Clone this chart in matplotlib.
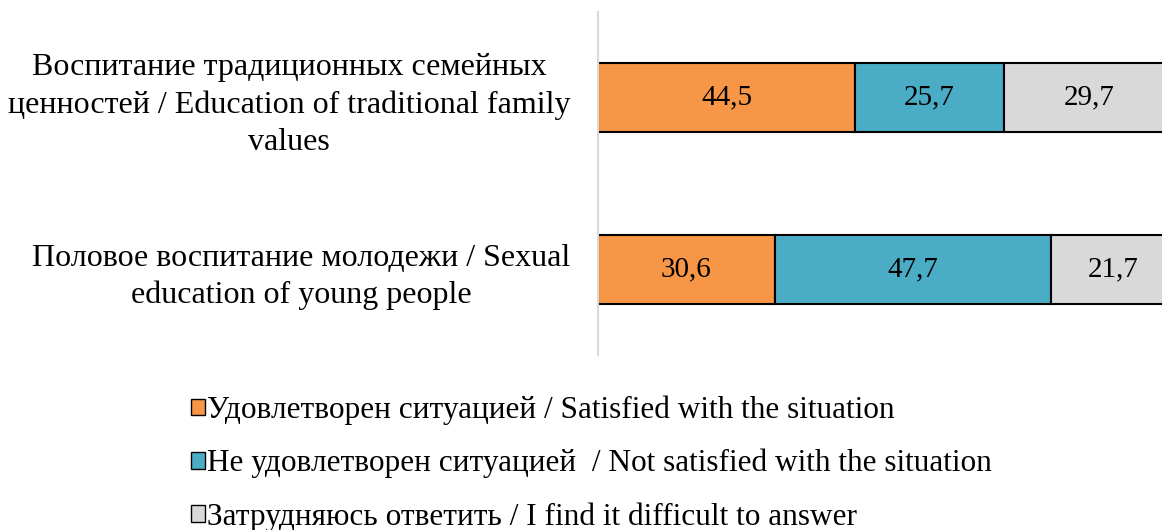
import matplotlib.pyplot as plt
from matplotlib.patches import Patch

plt.rcParams['font.family'] = ['Liberation Serif', 'DejaVu Serif']

categories = ['Воспитание традиционных семейных\nценностей / Education of traditional family\nvalues',
              'Половое воспитание молодежи / Sexual\neducation of young people']
series = ['Удовлетворен ситуацией / Satisfied with the situation',
          'Не удовлетворен ситуацией  / Not satisfied with the situation',
          'Затрудняюсь ответить / I find it difficult to answer']
satisfied = [44.5, 30.6]
not_satisfied = [25.7, 47.7]
difficult = [29.7, 21.7]
colors = ['#F79646', '#4BACC6', '#D9D9D9']

fig = plt.figure(figsize=(11.62, 5.30), dpi=100)
W, H = 1162, 530
ax = fig.add_axes([598 / W, 1 - 355 / H, 578 / W, 343 / H])

values = [satisfied, not_satisfied, difficult]
ypos = list(range(len(categories)))
left = [0, 0]
for vals, col in zip(values, colors):
    bars = ax.barh(ypos, vals, left=left, height=0.4, color=col,
                   edgecolor='black', linewidth=1.5)
    for b, v in zip(bars, vals):
        ax.text(b.get_x() + b.get_width() / 2, b.get_y() + b.get_height() / 2,
                f'{v:.1f}'.replace('.', ','), ha='center', va='center', fontsize=21)
    left = [l + v for l, v in zip(left, vals)]

ax.set_xlim(0, 100)
ax.set_ylim(1.5, -0.5)
ax.set_yticks(ypos)
ax.set_yticklabels(categories, fontsize=23, multialignment='center', linespacing=1.36)
ax.tick_params(axis='y', length=0, pad=20)
ax.set_xticks([])
for s in ['top', 'right', 'bottom']:
    ax.spines[s].set_visible(False)
ax.spines['left'].set_color('#D9D9D9')
ax.spines['left'].set_linewidth(1.5)

handles = [Patch(facecolor=c, edgecolor='black', linewidth=1) for c in colors]
fig.legend(handles, series, loc='upper left', bbox_to_anchor=(175 / W, 1 - 380 / H),
           frameon=False, fontsize=22.5, handlelength=0.45, handleheight=0.45,
           handletextpad=0.08, labelspacing=0.76, borderpad=0)

fig.savefig('out.png', dpi=100)
